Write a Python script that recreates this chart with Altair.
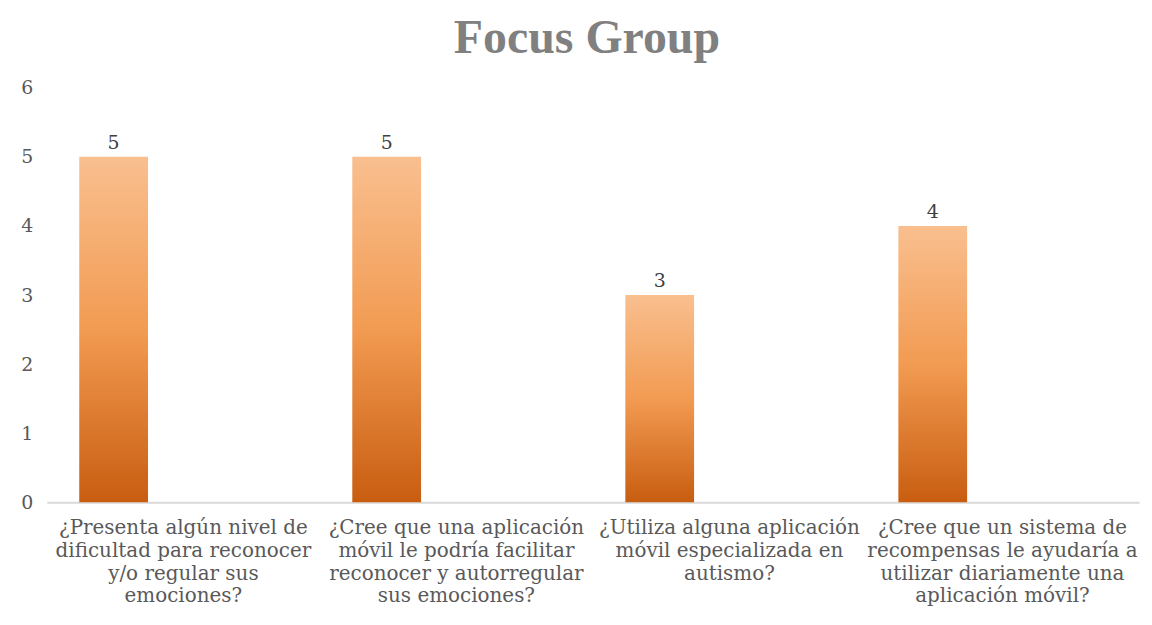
import altair as alt
import pandas as pd

# --- data ---
label_lines = [
    ["¿Presenta algún nivel de", "dificultad para reconocer", "y/o regular sus", "emociones?"],
    ["¿Cree que una aplicación", "móvil le podría facilitar", "reconocer y autorregular", "sus emociones?"],
    ["¿Utiliza alguna aplicación", "móvil especializada en", "autismo?"],
    ["¿Cree que un sistema de", "recompensas le ayudaría a", "utilizar diariamente una", "aplicación móvil?"],
]
values = [5, 5, 3, 4]
y_ticks = [0, 1, 2, 3, 4, 5, 6]
title_text = "Focus Group"

categories = ["|".join(lines) for lines in label_lines]
df = pd.DataFrame({"pregunta": categories, "valor": values})

serif = "DejaVu Serif"

gradient = alt.LinearGradient(
    gradient="linear",
    stops=[
        alt.GradientStop(color="#F9BF8F", offset=0),
        alt.GradientStop(color="#F29B52", offset=0.5),
        alt.GradientStop(color="#C85D10", offset=1),
    ],
    x1=0, x2=0, y1=0, y2=1,
)

x_enc = alt.X(
    "pregunta:N",
    sort=categories,
    scale=alt.Scale(paddingInner=0, paddingOuter=0),
    axis=alt.Axis(
        title=None,
        labelAngle=0,
        labelExpr="split(datum.label, '|')",
        labelFont=serif,
        labelFontSize=20,
        labelColor="#595959",
        labelLineHeight=23,
        labelPadding=15,
        labelLimit=0,
        ticks=False,
        domainColor="#D9D9D9",
        domainWidth=2,
        grid=False,
    ),
)
y_enc = alt.Y(
    "valor:Q",
    scale=alt.Scale(domain=[0, 6], nice=False, zero=True),
    axis=alt.Axis(
        title=None,
        values=y_ticks,
        domain=False,
        ticks=False,
        grid=False,
        labelFont=serif,
        labelFontSize=19,
        labelColor="#595959",
        labelPadding=14,
    ),
)

base = alt.Chart(df).encode(x=x_enc, y=y_enc)

bars = base.mark_bar(width=69, xOffset=-70, color=gradient)
texts = base.mark_text(
    xOffset=-70, dy=-8, baseline="alphabetic", font=serif, fontSize=19, color="#404040"
).encode(text="valor:Q")

chart = (
    alt.layer(bars, texts)
    .properties(
        width=1096,
        height=416,
        padding={"left": 12, "top": 6, "right": 5, "bottom": 0},
        title=alt.TitleParams(
            text=title_text,
            font="Liberation Serif",
            fontSize=48,
            fontWeight="bold",
            color="#808080",
            anchor="middle",
            frame="group",
            baseline="alphabetic",
            offset=-22,
            dx=-6,
        ),
        background="white",
    )
    .configure_view(stroke=None)
)

chart.save("out.html", embed_options={"renderer": "svg", "actions": False})
